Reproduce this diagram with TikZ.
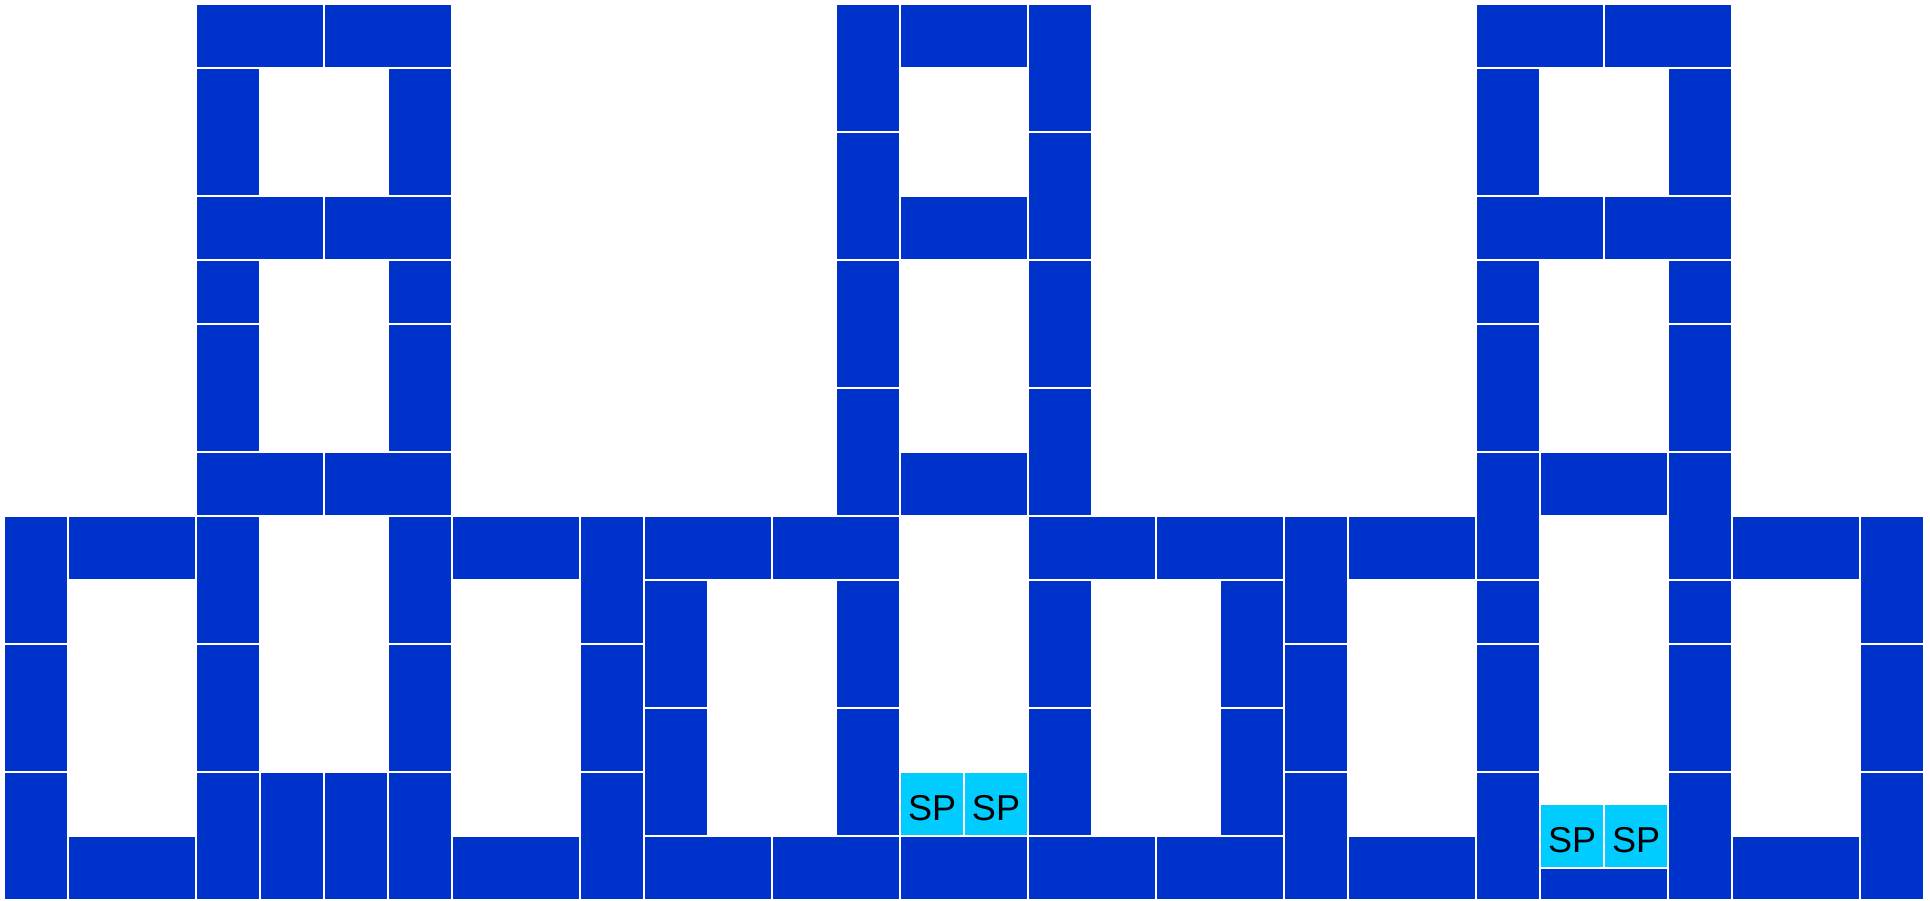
\documentclass[tikz,border=0pt]{standalone}
\usepackage{fontspec}
\setmainfont{Liberation Sans}
\definecolor{blkblue}{HTML}{0033CC}
\definecolor{spcyan}{HTML}{00CCFF}
\begin{document}
\begin{tikzpicture}[x=1cm,y=1cm,
  cellbox/.style={fill=blkblue, draw=white, line width=1.15pt},
  spbox/.style={fill=spcyan, draw=white, line width=1.15pt,
    minimum width=1cm, minimum height=1cm, inner sep=0pt, text=black,
    font=\fontsize{16}{19}\selectfont, text height=0.513cm, text depth=0pt}]
\path[use as bounding box, fill=white] (-0.0625,0.0656) rectangle (30.094,-14.0125);
% blue blocks: column/row/width/height in grid cells
\foreach \i/\j/\w/\h in {
  3/0/2/1, 5/0/2/1, 3/1/1/2, 6/1/1/2, 3/3/2/1, 5/3/2/1,
  3/4/1/1, 6/4/1/1, 3/5/1/2, 6/5/1/2, 3/7/2/1, 5/7/2/1,
  13/0/1/2, 13/2/1/2, 13/4/1/2, 13/6/1/2,
  14/0/2/1, 14/3/2/1, 14/7/2/1,
  16/0/1/2, 16/2/1/2, 16/4/1/2, 16/6/1/2,
  23/0/2/1, 25/0/2/1, 23/1/1/2, 26/1/1/2, 23/3/2/1, 25/3/2/1,
  23/4/1/1, 26/4/1/1, 23/5/1/2, 26/5/1/2,
  23/7/1/2, 24/7/2/1, 26/7/1/2, 23/9/1/1, 26/9/1/1,
  23/10/1/2, 26/10/1/2, 23/12/1/2, 26/12/1/2, 24/13.5/2/0.5,
  0/8/1/2, 0/10/1/2, 0/12/1/2, 1/8/2/1, 1/13/2/1,
  3/8/1/2, 3/10/1/2, 3/12/1/2, 4/12/1/2, 5/12/1/2,
  6/8/1/2, 6/10/1/2, 6/12/1/2, 7/8/2/1, 7/13/2/1,
  9/8/1/2, 9/10/1/2, 9/12/1/2,
  10/8/2/1, 12/8/2/1, 10/9/1/2, 10/11/1/2, 13/9/1/2, 13/11/1/2,
  10/13/2/1, 12/13/2/1, 14/13/2/1, 16/13/2/1, 18/13/2/1,
  16/8/2/1, 18/8/2/1, 16/9/1/2, 16/11/1/2, 19/9/1/2, 19/11/1/2,
  20/8/1/2, 20/10/1/2, 20/12/1/2, 21/8/2/1, 21/13/2/1,
  27/8/2/1, 27/13/2/1, 29/8/1/2, 29/10/1/2, 29/12/1/2}
  \path[cellbox] (\i,-\j) rectangle ++(\w,-\h);
% SP cells
\node[spbox] (spa) at (14.5,-12.5) {SP};
\node[spbox] (spb) at (15.5,-12.5) {SP};
\node[spbox] (spc) at (24.5,-13) {SP};
\node[spbox] (spd) at (25.5,-13) {SP};
\end{tikzpicture}
\end{document}
